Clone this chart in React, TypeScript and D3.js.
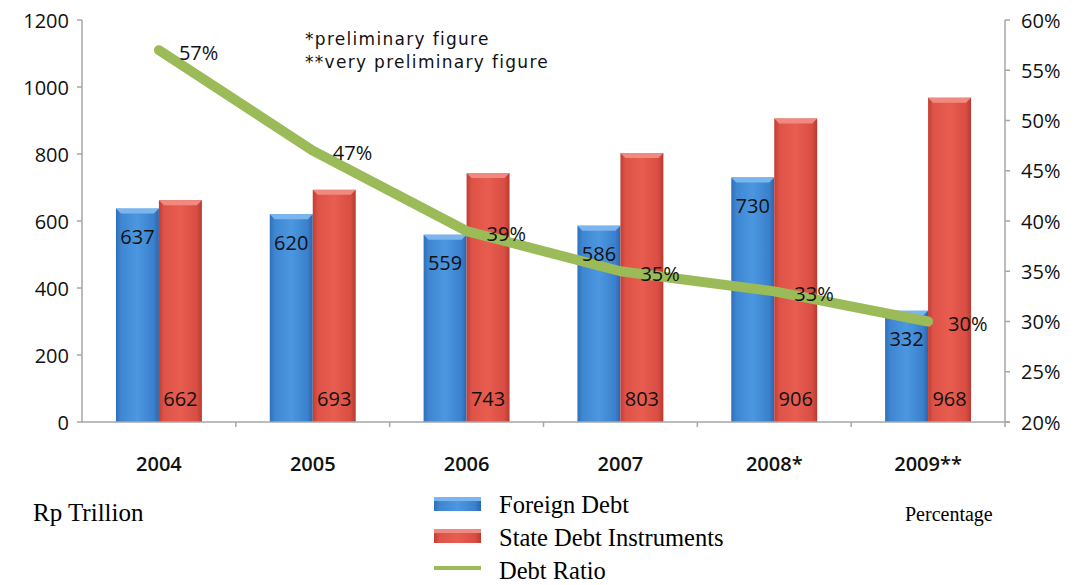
import React from "react";
import * as d3 from "d3";

const years = ["2004", "2005", "2006", "2007", "2008*", "2009**"];
const foreignDebt = [637, 620, 559, 586, 730, 332];
const stateDebt = [662, 693, 743, 803, 906, 968];
const debtRatio = [57, 47, 39, 35, 33, 30];
const leftTicks = [0, 200, 400, 600, 800, 1000, 1200];
const rightTicks = [20, 25, 30, 35, 40, 45, 50, 55, 60];
const seriesKeys = ["foreign", "state"];

const W = 1075;
const H = 585;
const left = 82;
const right = 1005;
const top = 20;
const bottom = 422;

export default function App() {
  const x = d3.scaleBand<string>().domain(years).range([left, right]).padding(0);
  const x1 = d3
    .scaleBand<string>()
    .domain(seriesKeys)
    .range([0, x.bandwidth()])
    .paddingInner(0)
    .paddingOuter(0.79);
  const yL = d3.scaleLinear().domain([0, 1200]).range([bottom, top]);
  const yR = d3.scaleLinear().domain([20, 60]).range([bottom, top]);
  const cx = (d: string) => (x(d) as number) + x.bandwidth() / 2;

  const line = d3
    .line<number>()
    .x((_, i) => cx(years[i]))
    .y((d) => yR(d));

  const numFont = "'Open Sans', 'Liberation Sans', sans-serif";
  const serif = "'Liberation Serif', 'Times New Roman', serif";

  const bar = (key: string, v: number, i: number, fill: string, topFill: string) => {
    const bx = (x(years[i]) as number) + (x1(key) as number);
    const bw = x1.bandwidth();
    const by = yL(v);
    const bh = yL(0) - by;
    const bev = 5;
    return (
      <g key={key + i}>
        <rect x={bx} y={by} width={bw} height={bh} fill={fill} />
        <path
          d={`M${bx},${by}L${bx + bw},${by}L${bx + bw - bev},${by + bev}L${bx + bev},${by + bev}Z`}
          fill={topFill}
        />
      </g>
    );
  };

  return (
    <svg width={W} height={H} style={{ position: "absolute", left: 0, top: 0, background: "#fff" }}>
      <defs>
        <linearGradient id="gBlue" x1="0" x2="1" y1="0" y2="0">
          <stop offset="0" stopColor="#2f6fb8" />
          <stop offset="0.12" stopColor="#3f86d2" />
          <stop offset="0.5" stopColor="#4c97e0" />
          <stop offset="0.88" stopColor="#3a80cc" />
          <stop offset="1" stopColor="#2a66ad" />
        </linearGradient>
        <linearGradient id="gRed" x1="0" x2="1" y1="0" y2="0">
          <stop offset="0" stopColor="#c23d33" />
          <stop offset="0.12" stopColor="#de5347" />
          <stop offset="0.5" stopColor="#e85d50" />
          <stop offset="0.88" stopColor="#d94d42" />
          <stop offset="1" stopColor="#b83a31" />
        </linearGradient>
      </defs>

      {/* bars */}
      {foreignDebt.map((v, i) => bar("foreign", v, i, "url(#gBlue)", "#7ab5ee"))}
      {stateDebt.map((v, i) => bar("state", v, i, "url(#gRed)", "#f08a80"))}

      {/* axes */}
      <g stroke="#a6a6a6" strokeWidth={1.5} fill="none">
        <line x1={left} x2={left} y1={top} y2={bottom} />
        <line x1={right} x2={right} y1={top} y2={bottom} />
        <line x1={left} x2={right + 5} y1={bottom} y2={bottom} />
        {leftTicks.map((t) => (
          <line key={"lt" + t} x1={left - 5} x2={left} y1={yL(t)} y2={yL(t)} />
        ))}
        {rightTicks.map((t) => (
          <line key={"rt" + t} x1={right} x2={right + 5} y1={yR(t)} y2={yR(t)} />
        ))}
        {years.map((d) => (
          <line key={"xt" + d} x1={(x(d) as number) + x.bandwidth()} x2={(x(d) as number) + x.bandwidth()} y1={bottom} y2={bottom + 5} />
        ))}
      </g>

      {/* tick labels */}
      <g fontFamily={numFont} fontSize={20} fill="#111">
        {leftTicks.map((t) => (
          <text key={"ll" + t} x={left - 13} y={yL(t)} textAnchor="end" dominantBaseline="central">
            {t}
          </text>
        ))}
        {rightTicks.map((t) => (
          <text key={"rl" + t} x={right + 16} y={yR(t)} textAnchor="start" dominantBaseline="central">
            {t}%
          </text>
        ))}
        {years.map((d) => (
          <text key={"xl" + d} x={cx(d)} y={463} textAnchor="middle" dominantBaseline="central" fontWeight={600}>
            {d}
          </text>
        ))}
      </g>

      {/* line */}
      <path d={line(debtRatio) || ""} fill="none" stroke="#9bbb59" strokeWidth={10} strokeLinecap="round" strokeLinejoin="round" />

      {/* bar value labels */}
      <g fontFamily={numFont} fontSize={20} fill="#111" textAnchor="middle" dominantBaseline="central">
        {foreignDebt.map((v, i) => (
          <text key={"fv" + i} x={(x(years[i]) as number) + (x1("foreign") as number) + x1.bandwidth() / 2} y={yL(v) + 28}>
            {v}
          </text>
        ))}
        {stateDebt.map((v, i) => (
          <text key={"sv" + i} x={(x(years[i]) as number) + (x1("state") as number) + x1.bandwidth() / 2} y={yL(0) - 24}>
            {v}
          </text>
        ))}
      </g>

      {/* line labels */}
      <g fontFamily={numFont} fontSize={20} fill="#111" dominantBaseline="central">
        {debtRatio.map((v, i) => (
          <text key={"dr" + i} x={cx(years[i]) + 20} y={yR(v) + 2}>
            {v}%
          </text>
        ))}
      </g>

      {/* notes */}
      <g fontFamily="'DejaVu Sans', Verdana, sans-serif" fontSize={17} fill="#111" letterSpacing={1.3}>
        <text x={305} y={45}>*preliminary figure</text>
        <text x={305} y={68}>**very preliminary figure</text>
      </g>

      {/* axis titles */}
      <g fontFamily={serif} fill="#000">
        <text x={33} y={521} fontSize={25}>Rp Trillion</text>
        <text x={905} y={521} fontSize={20}>Percentage</text>
      </g>

      {/* legend */}
      <g fontFamily={serif} fontSize={24.5} fill="#000">
        <rect x={434} y={497} width={47} height={14} fill="url(#gBlue)" />
        <rect x={434} y={497} width={47} height={4} fill="#7ab5ee" />
        <text x={499} y={513}>Foreign Debt</text>
        <rect x={434} y={529} width={47} height={14} fill="url(#gRed)" />
        <rect x={434} y={529} width={47} height={4} fill="#f08a80" />
        <text x={499} y={546}>State Debt Instruments</text>
        <line x1={434} x2={481} y1={568} y2={568} stroke="#9bbb59" strokeWidth={4} />
        <text x={499} y={579}>Debt Ratio</text>
      </g>
    </svg>
  );
}
